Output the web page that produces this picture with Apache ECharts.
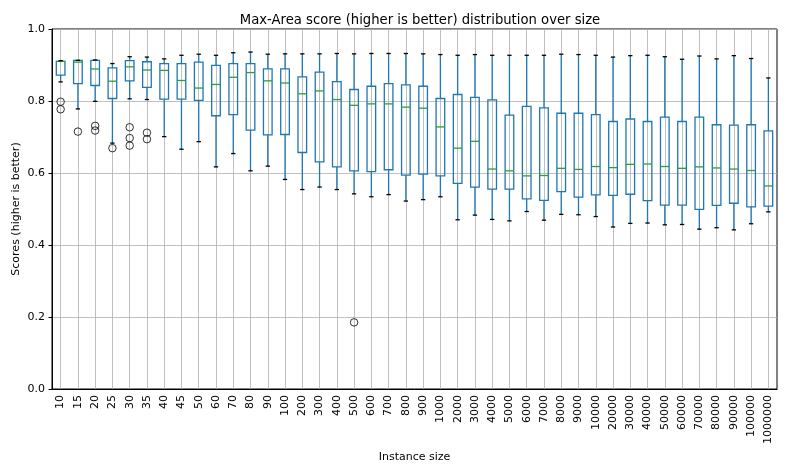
<!DOCTYPE html>
<html>
<head>
<meta charset="utf-8">
<style>
  html, body { margin: 0; padding: 0; background: #fff; }
  #chart-container { width: 789px; height: 473px; }
</style>
<script src="https://cdn.jsdelivr.net/npm/echarts@6/dist/echarts.min.js"></script>
</head>
<body>
<div id="chart-container"></div>
<script>
var categories = ['10', '15', '20', '25', '30', '35', '40', '45', '50', '60', '70', '80', '90',
  '100', '200', '300', '400', '500', '600', '700', '800', '900',
  '1000', '2000', '3000', '4000', '5000', '6000', '7000', '8000', '9000',
  '10000', '20000', '30000', '40000', '50000', '60000', '70000', '80000', '90000',
  '100000', '1000000'];

var whiskerHigh = [0.912, 0.913, 0.914, 0.904, 0.923, 0.922, 0.917, 0.927, 0.930, 0.927, 0.934, 0.936, 0.930, 0.931,
  0.931, 0.931, 0.932, 0.931, 0.932, 0.932, 0.932, 0.931, 0.929, 0.927, 0.929, 0.927, 0.927, 0.927, 0.927,
  0.930, 0.929, 0.927, 0.922, 0.926, 0.927, 0.923, 0.916, 0.925, 0.917, 0.926, 0.918, 0.864];
var q3 = [0.910, 0.913, 0.913, 0.892, 0.912, 0.909, 0.904, 0.904, 0.908, 0.899, 0.904, 0.904, 0.889, 0.889,
  0.867, 0.880, 0.854, 0.832, 0.841, 0.848, 0.845, 0.841, 0.807, 0.818, 0.810, 0.803, 0.761, 0.785, 0.781,
  0.766, 0.766, 0.762, 0.743, 0.750, 0.743, 0.755, 0.743, 0.755, 0.734, 0.733, 0.734, 0.717];
var median = [0.910, 0.908, 0.889, 0.855, 0.895, 0.886, 0.885, 0.857, 0.836, 0.846, 0.866, 0.879, 0.856, 0.850,
  0.820, 0.828, 0.804, 0.788, 0.792, 0.792, 0.783, 0.780, 0.728, 0.669, 0.688, 0.611, 0.606, 0.592, 0.593,
  0.613, 0.610, 0.618, 0.615, 0.624, 0.625, 0.618, 0.613, 0.617, 0.614, 0.611, 0.607, 0.564];
var q1 = [0.872, 0.848, 0.843, 0.807, 0.856, 0.838, 0.805, 0.805, 0.802, 0.759, 0.762, 0.719, 0.706, 0.707,
  0.657, 0.631, 0.617, 0.606, 0.604, 0.609, 0.594, 0.597, 0.592, 0.571, 0.561, 0.555, 0.555, 0.528, 0.524,
  0.548, 0.533, 0.539, 0.538, 0.541, 0.523, 0.511, 0.511, 0.499, 0.510, 0.516, 0.506, 0.508];
var whiskerLow = [0.853, 0.778, 0.799, 0.683, 0.806, 0.804, 0.701, 0.666, 0.687, 0.617, 0.654, 0.606, 0.619, 0.582,
  0.554, 0.561, 0.554, 0.542, 0.534, 0.540, 0.522, 0.526, 0.534, 0.470, 0.483, 0.471, 0.467, 0.493, 0.469,
  0.485, 0.484, 0.479, 0.450, 0.460, 0.461, 0.456, 0.457, 0.444, 0.448, 0.442, 0.459, 0.492];

var outliers = [
  ['10', 0.798], ['10', 0.777],
  ['15', 0.715],
  ['20', 0.731], ['20', 0.718],
  ['25', 0.669],
  ['30', 0.727], ['30', 0.697], ['30', 0.676],
  ['35', 0.712], ['35', 0.694],
  ['500', 0.185]
];

var yTicks = [0, 0.2, 0.4, 0.6, 0.8, 1.0];

var BLUE = '#1f77b4';
var GREEN = '#2ca02c';
var FONT = 'DejaVu Sans';

var dom = document.getElementById('chart-container');
var myChart = echarts.init(dom, null, { renderer: 'canvas' });

var boxData = categories.map(function (c, i) {
  return [i, whiskerLow[i], q1[i], median[i], q3[i], whiskerHigh[i]];
});

function renderBox(params, api) {
  var idx = api.value(0);
  var bw = api.size([1, 0])[0] * 0.5;
  var pLo = api.coord([idx, api.value(1)]);
  var cx = pLo[0];
  var yLo = pLo[1];
  var yQ1 = api.coord([idx, api.value(2)])[1];
  var yMed = api.coord([idx, api.value(3)])[1];
  var yQ3 = api.coord([idx, api.value(4)])[1];
  var yHi = api.coord([idx, api.value(5)])[1];
  var lw = 1.3;
  return {
    type: 'group',
    children: [
      { type: 'line', shape: { x1: cx, y1: yLo, x2: cx, y2: yQ1 }, style: { stroke: BLUE, lineWidth: lw } },
      { type: 'line', shape: { x1: cx, y1: yQ3, x2: cx, y2: yHi }, style: { stroke: BLUE, lineWidth: lw } },
      { type: 'rect', shape: { x: cx - bw / 2, y: yQ3, width: bw, height: yQ1 - yQ3 },
        style: { fill: 'none', stroke: BLUE, lineWidth: lw } },
      { type: 'line', shape: { x1: cx - bw / 2, y1: yMed, x2: cx + bw / 2, y2: yMed },
        style: { stroke: GREEN, lineWidth: lw } },
      { type: 'line', shape: { x1: cx - bw / 4, y1: yLo, x2: cx + bw / 4, y2: yLo },
        style: { stroke: '#000', lineWidth: lw } },
      { type: 'line', shape: { x1: cx - bw / 4, y1: yHi, x2: cx + bw / 4, y2: yHi },
        style: { stroke: '#000', lineWidth: lw } }
    ]
  };
}

var option = {
  animation: false,
  backgroundColor: '#fff',
  title: {
    text: 'Max-Area score (higher is better) distribution over size',
    left: 415,
    textAlign: 'center',
    top: 9,
    textStyle: { fontFamily: FONT, fontSize: 13.2, fontWeight: 'normal', color: '#000' }
  },
  grid: {
    left: 52, right: 12, top: 29, bottom: 84,
    show: true, borderColor: '#000', borderWidth: 1
  },
  xAxis: {
    type: 'category',
    data: categories,
    boundaryGap: true,
    name: 'Instance size',
    nameLocation: 'middle',
    nameGap: 60,
    nameTextStyle: { fontFamily: FONT, fontSize: 11, color: '#000' },
    axisLine: { lineStyle: { color: '#000', width: 1 } },
    axisTick: { alignWithLabel: true, length: 3.5, lineStyle: { color: '#000' } },
    axisLabel: { rotate: 90, interval: 0, margin: 6, fontFamily: FONT, fontSize: 11, color: '#000' },
    splitLine: { show: true, alignWithLabel: true, lineStyle: { color: '#b0b0b0', width: 0.8 } }
  },
  yAxis: {
    type: 'value',
    min: yTicks[0],
    max: yTicks[yTicks.length - 1],
    interval: 0.2,
    name: 'Scores (higher is better)',
    nameLocation: 'middle',
    nameGap: 30,
    nameMoveOverlap: false,
    nameTextStyle: { fontFamily: FONT, fontSize: 11, color: '#000' },
    axisLine: { show: true, lineStyle: { color: '#000', width: 1 } },
    axisTick: { show: true, length: 3.5, lineStyle: { color: '#000' } },
    axisLabel: {
      margin: 7, fontFamily: FONT, fontSize: 11, color: '#000',
      formatter: function (v) { return v.toFixed(1); }
    },
    splitLine: { show: true, lineStyle: { color: '#b0b0b0', width: 0.8 } }
  },
  series: [
    {
      type: 'custom',
      renderItem: renderBox,
      encode: { x: 0, y: [1, 2, 3, 4, 5] },
      data: boxData,
      silent: true
    },
    {
      type: 'scatter',
      data: outliers,
      symbol: 'circle',
      symbolSize: 7.5,
      itemStyle: { color: 'rgba(255,255,255,0)', borderColor: '#000', borderWidth: 1 },
      silent: true
    }
  ]
};

if (option && typeof option === 'object') {
  myChart.setOption(option);
}

window.addEventListener('resize', myChart.resize);
</script>
</body>
</html>
